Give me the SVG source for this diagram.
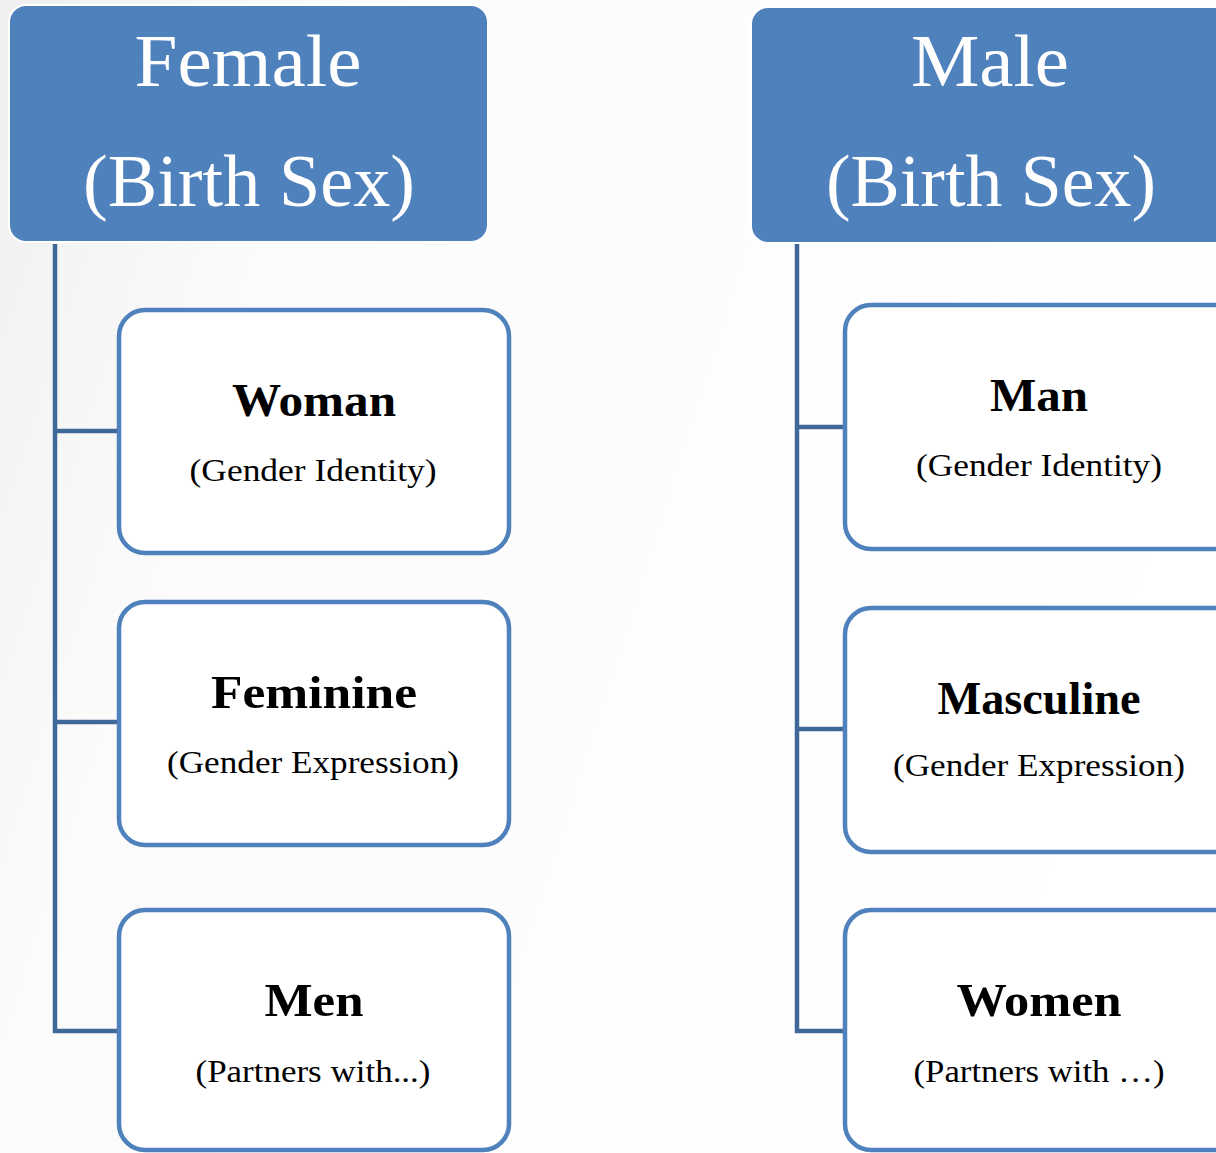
<svg xmlns="http://www.w3.org/2000/svg" width="1216" height="1153" viewBox="0 0 1216 1153">
<defs>
<linearGradient id="bg" x1="0" y1="0" x2="1" y2="0.3">
<stop offset="0" stop-color="#efefef"/>
<stop offset="0.25" stop-color="#fbfbfb"/>
<stop offset="1" stop-color="#ffffff"/>
</linearGradient>
<style>
.hdr{fill:#4F81BD;stroke:#ffffff;stroke-width:2}
.box{fill:#ffffff;stroke:#4F81BD;stroke-width:4.5}
.conn{fill:none;stroke:#3F6899;stroke-width:4.5;stroke-linejoin:miter}
.ht{font-family:"Liberation Serif","Times New Roman",serif;font-size:74px;fill:#ffffff;text-anchor:middle}
.t1{font-family:"Liberation Serif","Times New Roman",serif;font-weight:bold;font-size:46px;fill:#000;text-anchor:middle}
.t2{font-family:"Liberation Serif","Times New Roman",serif;font-size:32px;fill:#000;text-anchor:middle}
</style>
</defs>
<rect width="1216" height="1153" fill="url(#bg)"/>
<g id="connectors">
<path class="conn" d="M55,244 V1031 H119 M55,431 H119 M55,722 H119"/>
<path class="conn" d="M797,244 V1031 H845 M797,427 H845 M797,729 H845"/>
</g>
<g id="female">
<rect class="hdr" x="9" y="5" width="479" height="237" rx="17"/>
<text class="ht" x="248" y="86" textLength="227" lengthAdjust="spacingAndGlyphs">Female</text>
<text class="ht" x="249" y="206" textLength="332" lengthAdjust="spacingAndGlyphs">(Birth Sex)</text>
</g>
<g id="male">
<rect class="hdr" x="751" y="7" width="490" height="236" rx="17"/>
<text class="ht" x="990" y="86" textLength="158" lengthAdjust="spacingAndGlyphs">Male</text>
<text class="ht" x="991" y="206" textLength="330" lengthAdjust="spacingAndGlyphs">(Birth Sex)</text>
</g>
<g id="woman">
<rect class="box" x="119" y="310" width="390" height="243" rx="26"/>
<text class="t1" x="314" y="416" textLength="164" lengthAdjust="spacingAndGlyphs">Woman</text>
<text class="t2" x="313" y="481" textLength="247" lengthAdjust="spacingAndGlyphs">(Gender Identity)</text>
</g>
<g id="feminine">
<rect class="box" x="119" y="602" width="390" height="243" rx="26"/>
<text class="t1" x="314" y="708" textLength="206" lengthAdjust="spacingAndGlyphs">Feminine</text>
<text class="t2" x="313" y="773" textLength="292" lengthAdjust="spacingAndGlyphs">(Gender Expression)</text>
</g>
<g id="men">
<rect class="box" x="119" y="910" width="390" height="240" rx="26"/>
<text class="t1" x="314" y="1016" textLength="99" lengthAdjust="spacingAndGlyphs">Men</text>
<text class="t2" x="313" y="1082" textLength="235" lengthAdjust="spacingAndGlyphs">(Partners with...)</text>
</g>
<g id="man">
<rect class="box" x="845" y="305" width="400" height="244" rx="26"/>
<text class="t1" x="1039" y="411" textLength="98" lengthAdjust="spacingAndGlyphs">Man</text>
<text class="t2" x="1039" y="476" textLength="246" lengthAdjust="spacingAndGlyphs">(Gender Identity)</text>
</g>
<g id="masculine">
<rect class="box" x="845" y="608" width="400" height="244" rx="26"/>
<text class="t1" x="1039" y="714" textLength="203" lengthAdjust="spacingAndGlyphs">Masculine</text>
<text class="t2" x="1039" y="776" textLength="292" lengthAdjust="spacingAndGlyphs">(Gender Expression)</text>
</g>
<g id="women">
<rect class="box" x="845" y="910" width="400" height="240" rx="26"/>
<text class="t1" x="1039" y="1016" textLength="165" lengthAdjust="spacingAndGlyphs">Women</text>
<text class="t2" x="1039" y="1082" textLength="251" lengthAdjust="spacingAndGlyphs">(Partners with …)</text>
</g>
</svg>
